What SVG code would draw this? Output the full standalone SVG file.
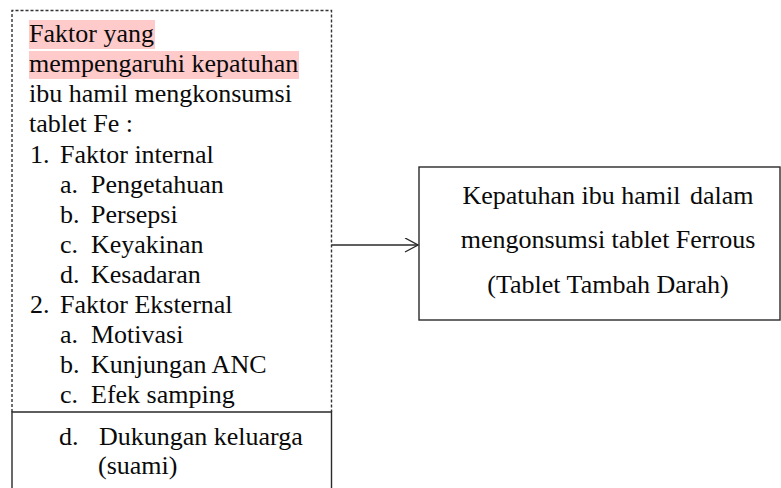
<svg xmlns="http://www.w3.org/2000/svg" width="781" height="488" viewBox="0 0 781 488">
<style>
text{font-family:"Liberation Serif","Times New Roman","DejaVu Serif",serif;font-size:26px;fill:#0a0a0a}
.hl{fill:#ffcaca}
.dash{fill:none;stroke:#333;stroke-width:1.4;stroke-dasharray:3 2}
.solid{fill:none;stroke:#2a2a2a;stroke-width:1.4}
</style>
<defs>
<marker id="open" markerWidth="16" markerHeight="16" refX="14" refY="7" orient="auto" markerUnits="userSpaceOnUse">
<path d="M1,0 L14,7 L1,14" fill="none" stroke="#2a2a2a" stroke-width="1.4"/>
</marker>
</defs>
<g id="factors">
<path class="dash" d="M12,412 V10.5 H331.5 V412"/>
<rect class="hl" x="29" y="20" width="126" height="29"/>
<rect class="hl" x="29" y="51" width="270" height="28"/>
<text x="29" y="42">Faktor yang</text>
<text x="29" y="72">mempengaruhi kepatuhan</text>
<text x="29" y="102">ibu hamil mengkonsumsi</text>
<text x="29" y="132">tablet Fe :</text>
<text x="30" y="163">1.</text><text x="60" y="163">Faktor internal</text>
<text x="60" y="193">a.</text><text x="91" y="193">Pengetahuan</text>
<text x="60" y="222.5">b.</text><text x="91" y="222.5">Persepsi</text>
<text x="60" y="252.5">c.</text><text x="91" y="252.5">Keyakinan</text>
<text x="60" y="282.5">d.</text><text x="91" y="282.5">Kesadaran</text>
<text x="30" y="313">2.</text><text x="60" y="313">Faktor Eksternal</text>
<text x="60" y="343">a.</text><text x="91" y="343">Motivasi</text>
<text x="60" y="373">b.</text><text x="91" y="373">Kunjungan ANC</text>
<text x="60" y="402.5">c.</text><text x="91" y="402.5">Efek samping</text>
</g>
<g id="factors-cont">
<path class="solid" d="M12,488 V412 H331.5 V488"/>
<text x="59" y="445">d.</text><text x="99" y="445">Dukungan keluarga</text>
<text x="98" y="474">(suami)</text>
</g>
<g id="outcome">
<rect class="solid" x="419" y="167" width="361" height="153"/>
<text x="608" y="203.5" text-anchor="middle">Kepatuhan ibu hamil <tspan dx="3">dalam</tspan></text>
<text x="608" y="248" text-anchor="middle">mengonsumsi tablet Ferrous</text>
<text x="608" y="292.5" text-anchor="middle">(Tablet Tambah Darah)</text>
</g>
<g id="connectors">
<line class="solid" x1="331.5" y1="245" x2="418" y2="245" marker-end="url(#open)"/>
</g>
</svg>
